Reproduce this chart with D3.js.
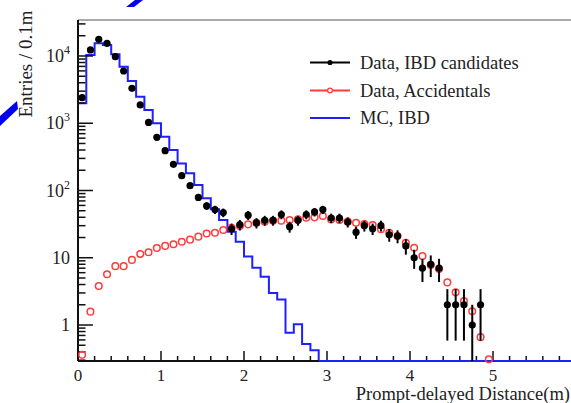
<!DOCTYPE html>
<html><head><meta charset="utf-8">
<script src="https://cdn.jsdelivr.net/npm/d3@7"></script>
<style>
html,body{margin:0;padding:0;background:#fff;overflow:hidden;}
svg{display:block;font-family:"Liberation Serif","Times New Roman",serif;}
</style></head>
<body><svg id="c" width="571" height="403"></svg>
<script>
// ---------- data ----------
const binWidth = 0.1;
// Data, IBD candidates (bin centres 0.05 ... 4.85)
const ibdCenters = d3.range(49).map(i => +(0.05 + i * 0.1).toFixed(2));
const ibdCounts = [2400, 12300, 17700, 15400, 9760, 5980, 3310, 1870, 1030, 618,
  391, 245, 166, 118, 79, 59, 52, 47, 27, 31,
  43, 33, 36, 36, 44, 29, 36, 44, 48, 52,
  39, 39, 34, 24, 30, 27, 30, 22, 21, 15,
  10, 7, 8, 7, 2, 2, 2, 1, 2];
// Data, Accidentals (bin centres 0.05 ... 4.95)
const accCenters = d3.range(50).map(i => +(0.05 + i * 0.1).toFixed(2));
const accCounts = [0.36, 1.58, 3.8, 5.7, 7.5, 7.5, 9.3, 11.4, 12.1, 14,
  15, 15.9, 17.3, 18.6, 20.6, 23, 23.6, 25.9, 28, 29.7,
  31.4, 33.2, 34.4, 35.6, 35.6, 36.4, 37.2, 39.4, 39.9, 41.8,
  37.2, 36.4, 34.4, 33.2, 31.8, 30.7, 26.5, 23.5, 21, 16.7,
  14.1, 10.6, 7.8, 6.8, 4.3, 3.06, 2.27, 1.6, 0.66, 0.31];
// MC, IBD histogram (bin low edges 0.0 ... 5.9)
const mcEdges = d3.range(60).map(i => +(i * 0.1).toFixed(2));
const mcCounts = [1980, 10300, 15400, 14600, 10600, 6930, 4250, 2480, 1570, 1000,
  631, 400, 253, 180, 121, 77, 52.5, 36.4, 24.4, 17.3,
  10.4, 7.1, 5.2, 3.0, 2.4, 0.77, 1.03, 0.52, 0.42, 0,
  0, 0, 0, 0, 0, 0, 0, 0, 0, 0,
  0, 0, 0, 0, 0, 0, 0, 0, 0, 0,
  0, 0, 0, 0, 0, 0, 0, 0, 0, 0];
const xTicks = [0, 1, 2, 3, 4, 5, 6];
const yTicks = [1, 10, 100, 1000, 10000];
const legendLabels = ["Data, IBD candidates", "Data, Accidentals", "MC, IBD"];
const xTitle = "Prompt-delayed Distance(m)";
const yTitle = "Entries / 0.1m";

// ---------- layout ----------
const svg = d3.select("#c");
const L = 78, R = 576, T = 20, B = 361;
const x = d3.scaleLinear().domain([0, 6]).range([L, R]);
const y = d3.scaleLog().domain([Math.pow(10, -0.535), Math.pow(10, 4.535)]).range([B, T]);
const yc = v => v <= y.domain()[0] ? B : Math.min(B, y(v));
const BLUE = "#1f1fff", RED = "#ff3b3b";

// decorative blue stripes (background of original slide)
svg.append("polygon").attr("points", "0,116 17,101 18,109 0,126").attr("fill", "#0000ee");
svg.append("polygon").attr("points", "126,7 134,7 143,0 135,0").attr("fill", "#0000ee");

// frame top
svg.append("line").attr("x1", L).attr("x2", 571).attr("y1", T).attr("y2", T)
  .attr("stroke", "#555").attr("stroke-width", 1.2);

// MC histogram step path
let pts = [];
mcEdges.forEach((e, i) => {
  const v = yc(mcCounts[i]);
  pts.push([x(e), v]);
  pts.push([x(e + binWidth), v]);
});
svg.append("path").attr("d", d3.line()(pts)).attr("fill", "none")
  .attr("stroke", BLUE).attr("stroke-width", 2);

// axes
const gAx = svg.append("g").attr("stroke", "#111").attr("fill", "none");
gAx.append("line").attr("x1", L).attr("x2", L).attr("y1", T).attr("y2", B).attr("stroke-width", 2);
gAx.append("line").attr("x1", L).attr("x2", 571).attr("y1", B).attr("y2", B).attr("stroke-width", 2);
// redraw blue baseline over the x axis where MC is zero
const zeroStart = mcEdges[mcCounts.findIndex(v => v === 0)];
svg.append("line").attr("x1", x(zeroStart)).attr("x2", 571).attr("y1", B).attr("y2", B)
  .attr("stroke", BLUE).attr("stroke-width", 2);

// x ticks
const xMinor = d3.range(0, 6.01, 0.2).map(v => +v.toFixed(2));
xMinor.forEach(v => {
  const major = Math.abs(v - Math.round(v)) < 1e-6;
  gAx.append("line").attr("x1", x(v)).attr("x2", x(v)).attr("y1", B).attr("y2", B - (major ? 10 : 5))
    .attr("stroke-width", 1.5);
});
svg.append("g").selectAll("text").data(xTicks).join("text")
  .attr("x", d => x(d)).attr("y", 381).attr("text-anchor", "middle")
  .attr("font-size", 17).attr("fill", "#222").text(d => d);

// y ticks (log)
for (let dec = -1; dec <= 4; dec++) {
  for (let m = 1; m <= 9; m++) {
    const v = m * Math.pow(10, dec);
    if (v < y.domain()[0] || v > y.domain()[1]) continue;
    gAx.append("line").attr("x1", L).attr("x2", L + (m === 1 ? 15 : 7.5))
      .attr("y1", y(v)).attr("y2", y(v)).attr("stroke-width", 1.5);
  }
}
const yl = svg.append("g").attr("font-size", 18).attr("fill", "#222");
yTicks.forEach(v => {
  const e = Math.round(Math.log10(v));
  const t = yl.append("text").attr("x", 70).attr("y", y(v) + 6).attr("text-anchor", "end");
  if (e <= 1) t.text(v);
  else {
    t.append("tspan").text("10");
    t.append("tspan").attr("dy", -8).attr("font-size", 12).text(e);
  }
});

// titles
svg.append("text").attr("transform", "translate(32,64) rotate(-90)").attr("text-anchor", "middle")
  .attr("font-size", 19).attr("fill", "#222").text(yTitle);
svg.append("text").attr("x", 570).attr("y", 400).attr("text-anchor", "end")
  .attr("font-size", 18.5).attr("fill", "#222").text(xTitle);

// accidentals (open red circles)
svg.append("g").selectAll("circle").data(accCenters.map((c, i) => [c, accCounts[i]])).join("circle")
  .attr("cx", d => x(d[0])).attr("cy", d => yc(d[1])).attr("r", 3.3)
  .attr("fill", "none").attr("stroke", RED).attr("stroke-width", 1.5);

// IBD candidate data with sqrt(N) error bars
const ibd = ibdCenters.map((c, i) => [c, ibdCounts[i]]);
svg.append("g").selectAll("line").data(ibd).join("line")
  .attr("x1", d => x(d[0])).attr("x2", d => x(d[0]))
  .attr("y1", d => yc(d[1] + Math.sqrt(d[1])))
  .attr("y2", d => yc(d[1] - Math.sqrt(d[1])))
  .attr("stroke", "#000").attr("stroke-width", 2);
svg.append("g").selectAll("circle").data(ibd).join("circle")
  .attr("cx", d => x(d[0])).attr("cy", d => yc(d[1])).attr("r", 3.6).attr("fill", "#000");

// legend
const lg = svg.append("g");
const rowsY = [62.5, 90.5, 118];
legendLabels.forEach((lab, i) => {
  const cy = rowsY[i];
  const col = i === 0 ? "#000" : i === 1 ? RED : BLUE;
  lg.append("line").attr("x1", 310).attr("x2", 350).attr("y1", cy).attr("y2", cy)
    .attr("stroke", col).attr("stroke-width", 1.8);
  if (i === 0) lg.append("circle").attr("cx", 330).attr("cy", cy).attr("r", 2.6).attr("fill", "#000");
  if (i === 1) lg.append("circle").attr("cx", 330).attr("cy", cy).attr("r", 2.4).attr("fill", "#fff")
    .attr("stroke", RED).attr("stroke-width", 1.3);
  lg.append("text").attr("x", 360).attr("y", cy + 6).attr("font-size", 18.5).attr("fill", "#222").text(lab);
});
</script></body></html>
